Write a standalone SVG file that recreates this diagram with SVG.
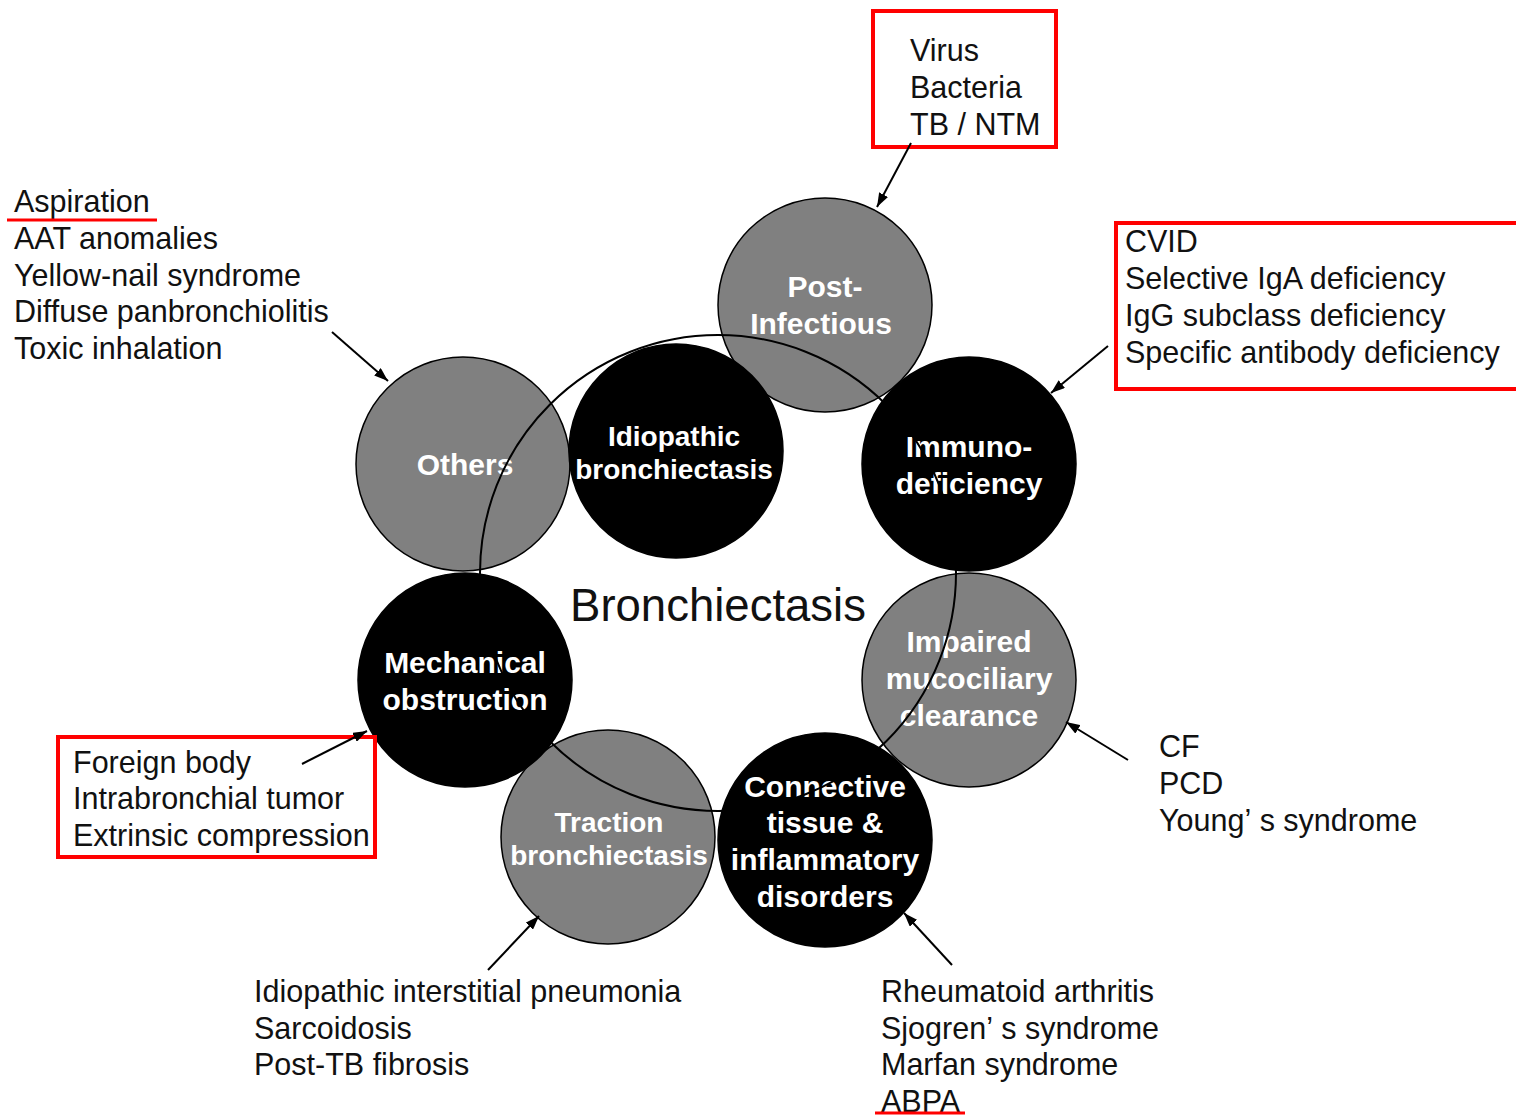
<svg xmlns="http://www.w3.org/2000/svg" width="1516" height="1115" viewBox="0 0 1516 1115">
<style>
  .lbl { font-family: "Liberation Sans", Arial, sans-serif; font-size: 30.5px; fill: #111; }
  .cl { font-family: "Liberation Sans", Arial, sans-serif; font-size: 30px; font-weight: bold; fill: #fff; text-anchor: middle; }
  .cs { font-size: 28px; }
  .gray { fill: #808080; stroke: #000; stroke-width: 1.5; }
  .black { fill: #000; stroke: #000; stroke-width: 1.5; }
  .conn { stroke: #000; stroke-width: 2; fill: none; marker-end: url(#ah); }
  .redbox { fill: none; stroke: #ff0000; stroke-width: 4; }
  .redline { stroke: #ff0000; stroke-width: 3; }
</style>
<defs>
  <marker id="ah" viewBox="0 0 14 10" refX="14" refY="5" markerWidth="14" markerHeight="10" markerUnits="userSpaceOnUse" orient="auto">
    <path d="M0,0 L14,5 L0,10 z" fill="#000"/>
  </marker>
</defs>
<rect width="1516" height="1115" fill="#fff"/>

<g id="node-post-infectious">
  <circle class="gray" cx="825" cy="305" r="107"/>
  <text class="cl" x="825" y="297">Post-</text>
  <text class="cl" x="821" y="334">Infectious</text>
</g>
<g id="node-immunodeficiency">
  <circle class="black" cx="969" cy="464" r="107"/>
  <text class="cl" x="969" y="457">Immuno-</text>
  <text class="cl" x="969" y="494">deficiency</text>
</g>
<g id="node-impaired">
  <circle class="gray" cx="969" cy="680" r="107"/>
  <text class="cl" x="969" y="652">Impaired</text>
  <text class="cl" x="969" y="689">mucociliary</text>
  <text class="cl" x="969" y="726">clearance</text>
</g>
<g id="node-connective">
  <circle class="black" cx="825" cy="840" r="107"/>
  <text class="cl" x="825" y="797">Connective</text>
  <text class="cl" x="825" y="833">tissue &amp;</text>
  <text class="cl" x="825" y="870">inflammatory</text>
  <text class="cl" x="825" y="907">disorders</text>
</g>
<g id="node-traction">
  <circle class="gray" cx="608" cy="837" r="107"/>
  <text class="cl cs" x="609" y="832">Traction</text>
  <text class="cl cs" x="609" y="865">bronchiectasis</text>
</g>
<g id="node-mechanical">
  <circle class="black" cx="465" cy="680" r="107"/>
  <text class="cl" x="465" y="673">Mechanical</text>
  <text class="cl" x="465" y="710">obstruction</text>
</g>
<g id="node-others">
  <circle class="gray" cx="463" cy="464" r="107"/>
  <text class="cl" x="465" y="475">Others</text>
</g>
<g id="node-idiopathic">
  <circle class="black" cx="676" cy="451" r="107"/>
  <text class="cl cs" x="674" y="446">Idiopathic</text>
  <text class="cl cs" x="674" y="479">bronchiectasis</text>
</g>

<g id="ring">
  <circle cx="718" cy="573" r="238" fill="none" stroke="#000" stroke-width="2"/>
</g>

<g id="center-title">
  <text x="718" y="621" font-family="'Liberation Sans', Arial, sans-serif" font-size="45.5" fill="#111" text-anchor="middle">Bronchiectasis</text>
</g>

<g id="label-infectious">
  <rect class="redbox" x="873" y="11" width="183" height="136"/>
  <text class="lbl" x="910" y="61">Virus</text>
  <text class="lbl" x="910" y="98">Bacteria</text>
  <text class="lbl" x="910" y="135">TB / NTM</text>
</g>
<g id="label-immuno">
  <rect class="redbox" x="1116" y="223" width="412" height="166"/>
  <text class="lbl" x="1125" y="252">CVID</text>
  <text class="lbl" x="1125" y="289">Selective IgA deficiency</text>
  <text class="lbl" x="1125" y="326">IgG subclass deficiency</text>
  <text class="lbl" x="1125" y="363">Specific antibody deficiency</text>
</g>
<g id="label-others">
  <text class="lbl" x="14" y="212">Aspiration</text>
  <line class="redline" x1="7" y1="220" x2="157" y2="220"/>
  <text class="lbl" x="14" y="249">AAT anomalies</text>
  <text class="lbl" x="14" y="286">Yellow-nail syndrome</text>
  <text class="lbl" x="14" y="322">Diffuse panbronchiolitis</text>
  <text class="lbl" x="14" y="359">Toxic inhalation</text>
</g>
<g id="label-mechanical">
  <rect class="redbox" x="58" y="737" width="317" height="120"/>
  <text class="lbl" x="73" y="773">Foreign body</text>
  <text class="lbl" x="73" y="809">Intrabronchial tumor</text>
  <text class="lbl" x="73" y="846">Extrinsic compression</text>
</g>
<g id="label-mucociliary">
  <text class="lbl" x="1159" y="757">CF</text>
  <text class="lbl" x="1159" y="794">PCD</text>
  <text class="lbl" x="1159" y="831">Young’<tspan dx="9">s syndrome</tspan></text>
</g>
<g id="label-traction">
  <text class="lbl" x="254" y="1002">Idiopathic interstitial pneumonia</text>
  <text class="lbl" x="254" y="1039">Sarcoidosis</text>
  <text class="lbl" x="254" y="1075">Post-TB fibrosis</text>
</g>
<g id="label-connective">
  <text class="lbl" x="881" y="1002">Rheumatoid arthritis</text>
  <text class="lbl" x="881" y="1039">Sjogren’<tspan dx="9">s syndrome</tspan></text>
  <text class="lbl" x="881" y="1075">Marfan syndrome</text>
  <text class="lbl" x="881" y="1112">ABPA</text>
  <line class="redline" x1="875" y1="1113" x2="965" y2="1113"/>
</g>

<g id="connectors">
  <line class="conn" x1="911" y1="143" x2="877" y2="207"/>
  <line class="conn" x1="1108" y1="346" x2="1051" y2="393"/>
  <line class="conn" x1="1128" y1="760" x2="1066" y2="722"/>
  <line class="conn" x1="952" y1="965" x2="904" y2="913"/>
  <line class="conn" x1="488" y1="970" x2="539" y2="916"/>
  <line class="conn" x1="302" y1="764" x2="367" y2="731"/>
  <line class="conn" x1="332" y1="332" x2="388" y2="381"/>
</g>
</svg>
